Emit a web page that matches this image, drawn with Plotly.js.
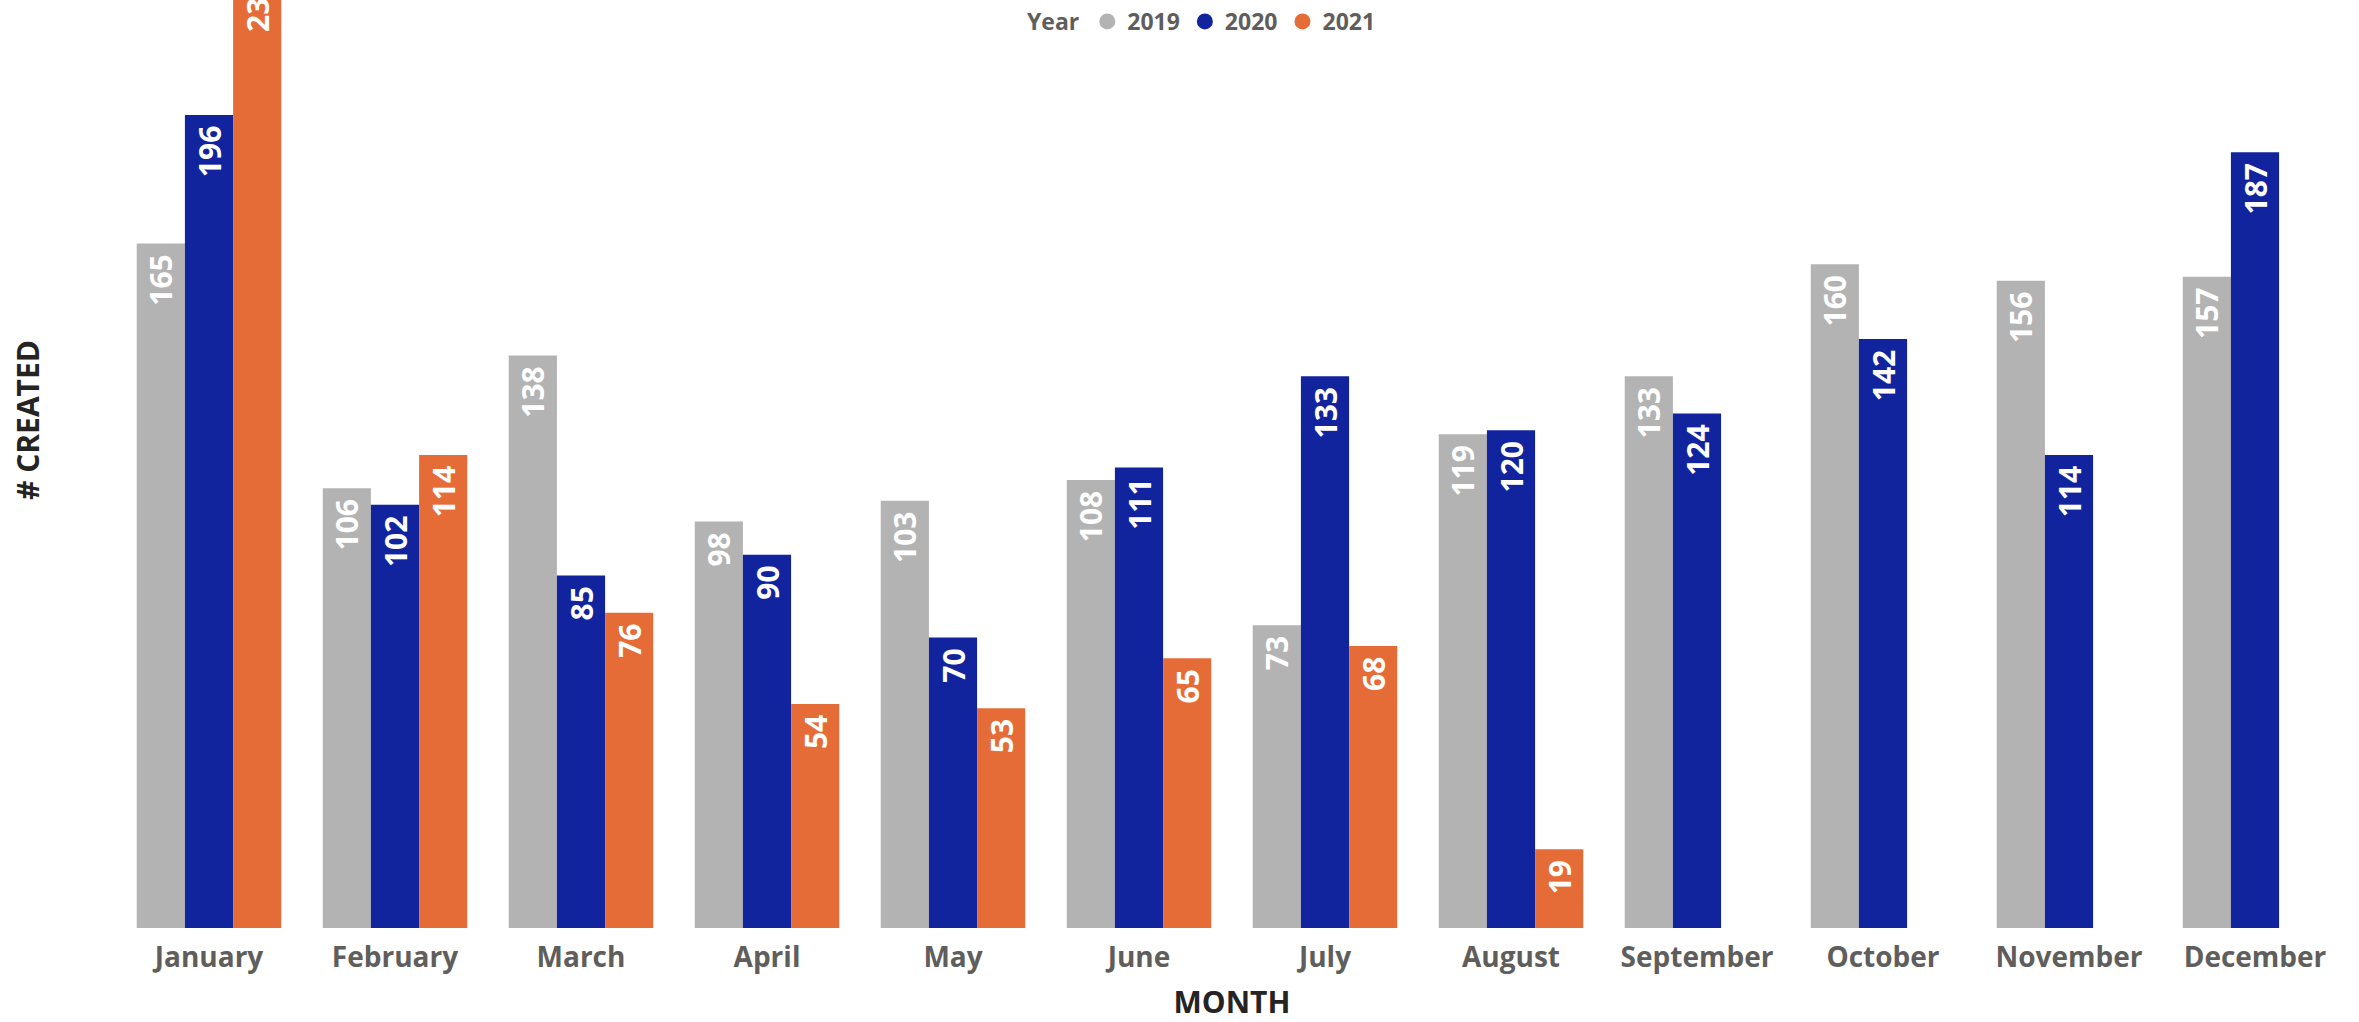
<!DOCTYPE html>
<html>
<head>
<meta charset="utf-8">
<script src="https://cdn.plot.ly/plotly-3.0.1.min.js"></script>
<style>
  html, body { margin: 0; padding: 0; background: #ffffff; }
  #chart { width: 2359px; height: 1022px; }
</style>
</head>
<body>
<div id="chart"></div>
<script>
const months = ["January", "February", "March", "April", "May", "June", "July", "August", "September", "October", "November", "December"];
const years = ["2019", "2020", "2021"];
const created2019 = [165, 106, 138, 98, 103, 108, 73, 119, 133, 160, 156, 157];
const created2020 = [196, 102, 85, 90, 70, 111, 133, 120, 124, 142, 114, 187];
const created2021 = [231, 114, 76, 54, 53, 65, 68, 19, null, null, null, null];
const colors = ["#B3B3B3", "#12239E", "#E66C37"];

const FONT = "'Open Sans', 'Noto Sans', sans-serif";
const series = [created2019, created2020, created2021];

const traces = series.map((vals, i) => ({
  type: "bar",
  name: years[i],
  x: months,
  y: vals,
  marker: { color: colors[i] },
  text: vals.map(v => v === null ? "" : String(v) + "\u00A0"),
  textposition: "inside",
  insidetextanchor: "end",
  textangle: -90,
  textfont: { family: FONT, size: 30, color: "#FFFFFF", weight: 700 },
  cliponaxis: true,
  showlegend: false,
  hoverinfo: "x+y+name"
}));

// legend entries with round markers
years.forEach((yr, i) => {
  traces.push({
    type: "scatter",
    mode: "markers",
    name: yr,
    x: [null],
    y: [null],
    marker: { color: colors[i], size: 16, symbol: "circle" },
    showlegend: true,
    hoverinfo: "skip"
  });
});

const layout = {
  width: 2359,
  height: 1022,
  paper_bgcolor: "#ffffff",
  plot_bgcolor: "#ffffff",
  margin: { l: 116, r: 11, t: 0, b: 94 },
  barmode: "group",
  bargap: 0.223,
  bargroupgap: 0,
  font: { family: FONT, color: "#605E5C" },
  xaxis: {
    type: "category",
    showgrid: false,
    zeroline: false,
    showline: false,
    ticks: "",
    ticklabelstandoff: 10,
    tickfont: { family: FONT, size: 28, color: "#605E5C", weight: 700 },
    title: { text: "MONTH", font: { family: FONT, size: 30, color: "#252423", weight: 700 }, standoff: 19 },
    automargin: false
  },
  yaxis: {
    range: [0, 223.7],
    showgrid: false,
    zeroline: false,
    showline: false,
    showticklabels: false,
    ticks: "",
    automargin: false
  },
  legend: {
    orientation: "h",
    x: 0.487,
    xanchor: "center",
    y: 1.0,
    yanchor: "top",
    bgcolor: "rgba(0,0,0,0)",
    font: { family: FONT, size: 23, color: "#605E5C", weight: 700 },
    title: { text: "Year", font: { family: FONT, size: 23, color: "#605E5C", weight: 700 } },
    itemclick: false,
    itemdoubleclick: false
  },
  annotations: [{
    text: "# CREATED",
    textangle: -90,
    xref: "paper", yref: "paper",
    x: -116 / 2232 + 27 / 2232,
    y: (928 - 420) / 928,
    xanchor: "center", yanchor: "middle",
    showarrow: false,
    font: { family: FONT, size: 30, color: "#252423", weight: 700 }
  }]
};

Plotly.newPlot("chart", traces, layout, { displayModeBar: false, staticPlot: true });
</script>
</body>
</html>
